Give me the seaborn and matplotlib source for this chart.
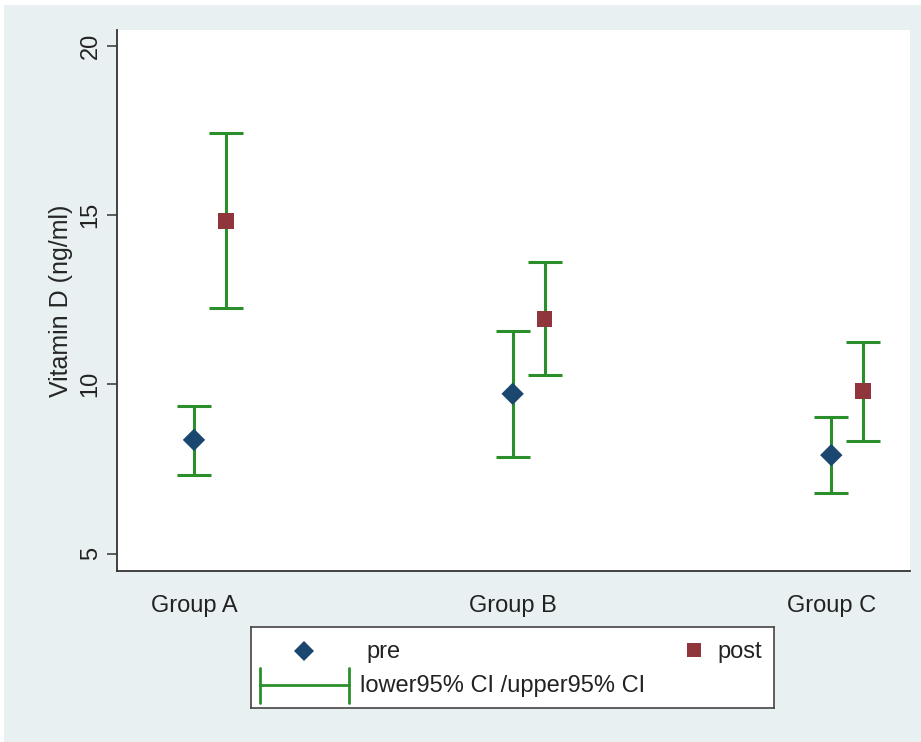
import matplotlib
matplotlib.use("Agg")
import matplotlib.pyplot as plt
import seaborn as sns
import pandas as pd
import numpy as np
from matplotlib.patches import Rectangle

# ---- data ----
groups = ["Group A", "Group B", "Group C"]
pre_mean = [8.36, 9.72, 7.91]
pre_lo = [7.33, 7.86, 6.80]
pre_hi = [9.36, 11.58, 9.04]
post_mean = [14.83, 11.93, 9.80]
post_lo = [12.25, 10.28, 8.34]
post_hi = [17.43, 13.61, 11.26]
yticks = [5, 10, 15, 20]

sns.set_theme(style="white")
plt.rcParams['font.family'] = ['Liberation Sans', 'DejaVu Sans']

BG = "#e8f0f2"
NAVY = "#1a476f"
MAROON = "#90353b"
GREEN = "#2a8f2a"
AXC = "#333333"
FS = 17

W, H = 921, 742
fig = plt.figure(figsize=(W / 100, H / 100), dpi=100, facecolor="white")
fig.patches.append(Rectangle((4 / W, 0), 1, (H - 5) / H, transform=fig.transFigure,
                             facecolor=BG, edgecolor="none", zorder=-10))

ax = fig.add_axes([117 / W, (H - 571) / H, (910 - 117) / W, (571 - 30) / H])
ax.set_facecolor("white")

xpos = np.arange(len(groups))
off = 0.1
df = pd.DataFrame({
    "x": np.concatenate([xpos, xpos + off]),
    "y": pre_mean + post_mean,
    "lo": pre_lo + post_lo,
    "hi": pre_hi + post_hi,
    "series": ["pre"] * 3 + ["post"] * 3,
})

# CI error bars
for _, r in df.iterrows():
    ax.errorbar(r["x"], r["y"], yerr=[[r["y"] - r["lo"]], [r["hi"] - r["y"]]],
                fmt="none", ecolor=GREEN, elinewidth=2.2, capsize=12.2,
                capthick=2.2, zorder=2)

sns.scatterplot(data=df, x="x", y="y", hue="series", style="series",
                palette={"pre": NAVY, "post": MAROON},
                markers={"pre": "D", "post": "s"},
                s=130, linewidth=0, ax=ax, legend=False, zorder=3)

ax.set_xlim(-0.2416, 2.247)
ax.set_ylim(4.49, 20.46)
ax.set_xticks(xpos)
ax.set_xticklabels(groups, fontsize=FS)
ax.set_yticks(yticks)
ax.set_yticklabels([str(t) for t in yticks], fontsize=FS, rotation=90, va="center")
ax.set_xlabel("")
ax.set_ylabel("Vitamin D (ng/ml)", fontsize=18, labelpad=5)

for s in ["top", "right"]:
    ax.spines[s].set_visible(False)
for s in ["left", "bottom"]:
    ax.spines[s].set_color(AXC)
    ax.spines[s].set_linewidth(1.3)
ax.tick_params(axis="x", length=9, width=1.1, color=AXC, pad=8, labelcolor="#222222")
ax.tick_params(axis="y", length=7, width=1.1, color=AXC, pad=4, labelcolor="#222222",
               left=True)

# ---- legend box ----
lx0, lx1, ly0, ly1 = 251, 774, 627, 708
lax = fig.add_axes([lx0 / W, (H - ly1) / H, (lx1 - lx0) / W, (ly1 - ly0) / H])
lax.set_xlim(lx0, lx1)
lax.set_ylim(ly1, ly0)
lax.set_xticks([])
lax.set_yticks([])
lax.set_facecolor("white")
for s in lax.spines.values():
    s.set_color("#444444")
    s.set_linewidth(1.2)
lax.plot([304], [651], marker="D", ms=10.5, color=NAVY, mew=0)
lax.text(366, 652, "pre", fontsize=FS, va="center", ha="left", color="#222222")
lax.plot([694], [650], marker="s", ms=9.5, color=MAROON, mew=0)
lax.text(717, 652, "post", fontsize=FS, va="center", ha="left", color="#222222")
lax.plot([260, 349], [685, 685], color=GREEN, lw=2)
lax.plot([260, 260], [668, 703], color=GREEN, lw=2)
lax.plot([349, 349], [668, 703], color=GREEN, lw=2)
lax.text(360, 686, "lower95% CI /upper95% CI", fontsize=FS, va="center", ha="left",
         color="#222222")

fig.savefig("out.png", dpi=100, facecolor=fig.get_facecolor())
